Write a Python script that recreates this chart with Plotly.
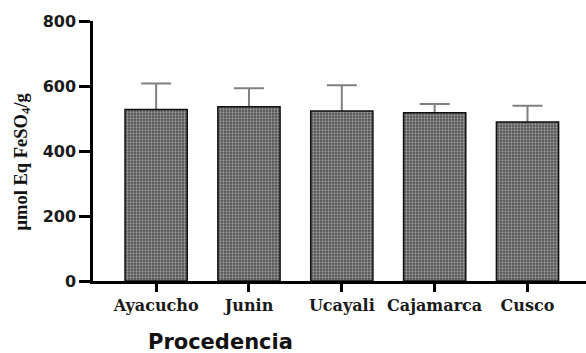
import plotly.graph_objects as go

# Antioxidant capacity by origin (mean and upper SD)
procedencia = ["Ayacucho", "Junin", "Ucayali", "Cajamarca", "Cusco"]
media = [528, 536, 523, 518, 489]
desv = [80, 57, 79, 27, 50]

serif = "DejaVu Serif"
sans = "DejaVu Sans"

fig = go.Figure()

# Whiskers: drawn on the base axes so the bars (overlay axes) hide the lower half
fig.add_trace(go.Scatter(
    x=procedencia, y=media, mode="markers",
    marker=dict(size=1, color="rgba(0,0,0,0)"),
    error_y=dict(type="data", array=desv, symmetric=True,
                 color="#808080", thickness=2, width=15),
    xaxis="x", yaxis="y", showlegend=False, hoverinfo="skip",
))

# Bars with a fine checker fill
fig.add_trace(go.Bar(
    x=procedencia, y=media, width=0.67,
    marker=dict(
        color="#7a7a7a",
        line=dict(color="#111111", width=1.5),
        pattern=dict(shape=".", bgcolor="#4f4f4f", fgcolor="#e6e6e6",
                     size=3, solidity=0.45),
    ),
    xaxis="x", yaxis="y2", showlegend=False,
))

fig.update_layout(
    width=586, height=353,
    margin=dict(l=93, r=0, t=21, b=72),
    paper_bgcolor="white", plot_bgcolor="white",
    xaxis=dict(
        range=[-0.68, 4.63], showgrid=False, zeroline=False,
        showline=True, linecolor="black", linewidth=2.5,
        ticks="outside", ticklen=8, tickwidth=3, tickcolor="black",
        tickfont=dict(family=serif, size=16, color="#1a1a1a", weight="bold"),
    ),
    yaxis=dict(
        range=[0, 800], tickvals=[0, 200, 400, 600, 800],
        showgrid=False, zeroline=False,
        showline=True, linecolor="black", linewidth=2.5,
        ticks="outside", ticklen=11, tickwidth=2.5, tickcolor="black",
        tickfont=dict(family=sans, size=16, color="#1a1a1a", weight="bold"),
    ),
    yaxis2=dict(
        range=[0, 800], overlaying="y", visible=False,
        showgrid=False, zeroline=False,
    ),
    annotations=[
        dict(text="Procedencia", xref="paper", yref="paper",
             x=0.258, y=-0.235, xanchor="center", yanchor="middle",
             showarrow=False,
             font=dict(family=sans, size=21, color="#111111", weight="bold")),
        dict(text="μmol Eq FeSO<sub>4</sub>/g", xref="paper", yref="paper",
             x=-0.144, y=0.46, xanchor="center", yanchor="middle",
             textangle=-90, showarrow=False,
             font=dict(family="Liberation Serif", size=18.5, color="#111111",
                       weight="bold")),
    ],
)

fig.write_html("out.html")
